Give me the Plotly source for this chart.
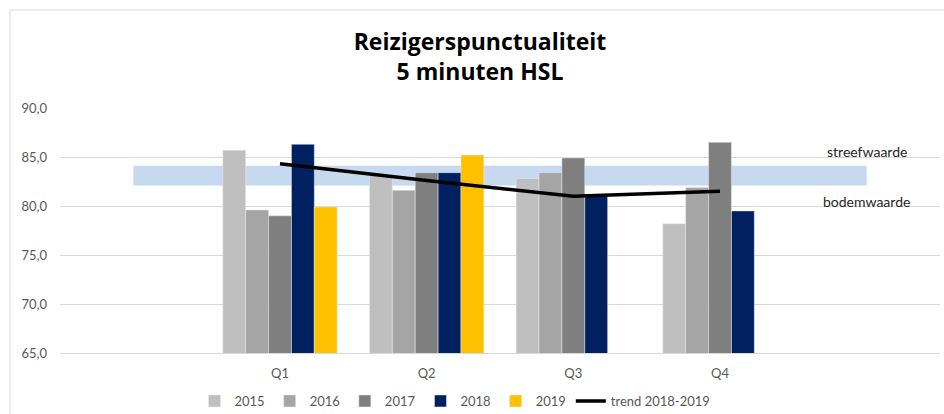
import plotly.graph_objects as go

categories = ["", "Q1", "Q2", "Q3", "Q4", ""]
quarters = ["Q1", "Q2", "Q3", "Q4"]
years = ["2015", "2016", "2017", "2018", "2019"]
values = {
    "2015": [85.7, 83.2, 82.8, 78.2],
    "2016": [79.6, 81.6, 83.4, 81.9],
    "2017": [79.0, 83.4, 84.9, 86.5],
    "2018": [86.3, 83.4, 81.0, 79.5],
    "2019": [79.9, 85.2, None, None],
}
colors = {
    "2015": "#BFBFBF",
    "2016": "#A5A5A5",
    "2017": "#7F7F7F",
    "2018": "#002060",
    "2019": "#FFC000",
}
trend = [84.3, 82.6, 81.0, 81.5]
streefwaarde = [84.1] * 6
bodemwaarde = [82.1] * 6

idx_all = list(range(len(categories)))
idx_q = [categories.index(q) for q in quarters]

FONT = "Lato"
fig = go.Figure()

# band (base axes -> drawn beneath)
fig.add_trace(go.Scatter(x=idx_all, y=bodemwaarde, mode="lines", line=dict(width=0),
                         showlegend=False, hoverinfo="skip"))
fig.add_trace(go.Scatter(x=idx_all, y=streefwaarde, mode="lines", line=dict(width=0),
                         fill="tonexty", fillcolor="#C6D9F1", showlegend=False, hoverinfo="skip"))

for yr in years:
    fig.add_trace(go.Bar(x=idx_q, y=values[yr], name=yr, marker_color=colors[yr],
                         xaxis="x2", yaxis="y2"))
fig.add_trace(go.Scatter(x=idx_q, y=trend, mode="lines", name="trend 2018-2019",
                         line=dict(color="black", width=3.5), xaxis="x2", yaxis="y2"))

xr = [-0.5, 5.5]
yr_ = [65, 90]
fig.update_layout(
    width=944, height=414,
    margin=dict(l=60, r=4, t=108, b=61, autoexpand=False),
    plot_bgcolor="white", paper_bgcolor="white",
    separators=", ",
    barmode="group", bargap=0.22, bargroupgap=0,
    font=dict(family=FONT, color="#595959", size=13),
    title=dict(text="<b>Reizigerspunctualiteit<br>5 minuten HSL</b>", x=480 / 944, xanchor="center",
               xref="container", yref="container", y=1 - 50 / 414, yanchor="middle",
               font=dict(family="Open Sans", size=23, color="black")),
    xaxis=dict(range=xr, tickvals=idx_q, ticktext=quarters, showgrid=False, zeroline=False,
               showline=True, linecolor="#D9D9D9", ticks="", tickfont=dict(size=13),
               ticklabelstandoff=8, automargin=False),
    yaxis=dict(range=yr_, dtick=5, tickformat=".1f", showgrid=True, gridcolor="#D9D9D9",
               zeroline=False, ticks="", tickfont=dict(size=13), ticklabelstandoff=12,
               automargin=False),
    xaxis2=dict(range=xr, overlaying="x", visible=False),
    yaxis2=dict(range=yr_, overlaying="y", visible=False),
    legend=dict(orientation="h", xref="container", x=455 / 944, xanchor="center", yref="container",
                y=1 - 401 / 414, yanchor="middle",
                font=dict(size=13, color="#595959"), traceorder="normal"),
    annotations=[
        dict(text="streefwaarde", x=5, y=85.6, xref="x", yref="y", showarrow=False,
             font=dict(size=14, color="#262626")),
        dict(text="bodemwaarde", x=5, y=80.5, xref="x", yref="y", showarrow=False,
             font=dict(size=14, color="#262626")),
    ],
    shapes=[dict(type="rect", xref="paper", yref="paper", x0=(10 - 60) / 880, x1=1.2,
                 y0=-0.5, y1=(353 - 10) / 245, line=dict(color="#D9D9D9", width=1),
                 layer="below")],
)
fig.write_html("out.html")
